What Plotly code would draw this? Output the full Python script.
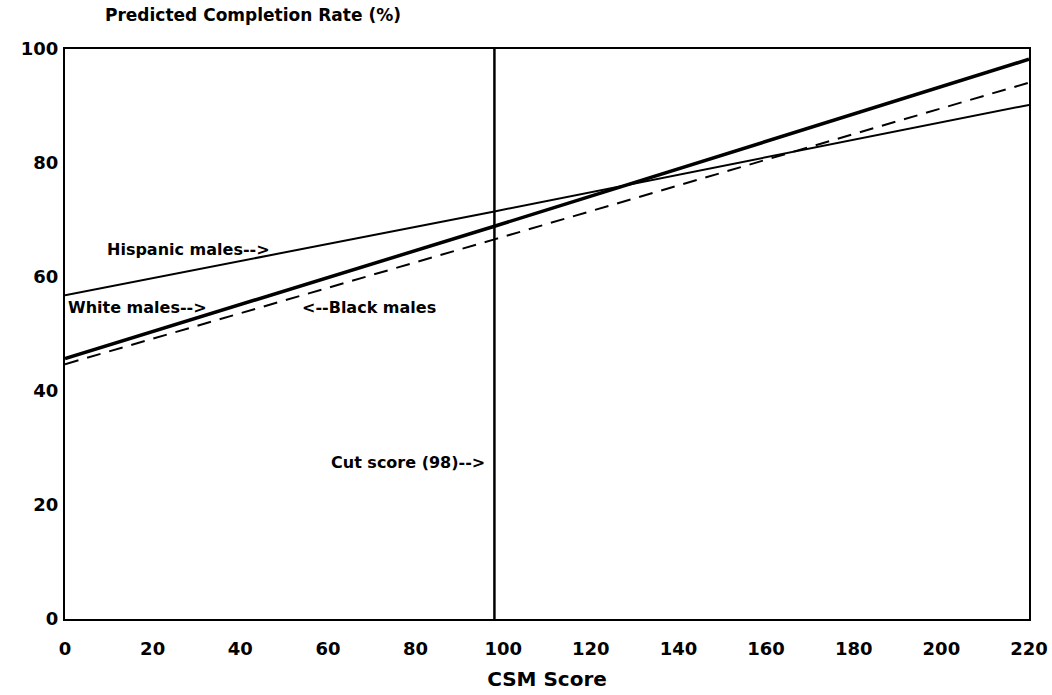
import plotly.graph_objects as go

# Data
score_x = [0, 98, 220]
hispanic_males = [56.8, 71.5, 90.2]
white_males = [45.7, 68.9, 98.2]
black_males = [44.7, 66.6, 94.1]
cut_score = 98
x_ticks = [0, 20, 40, 60, 80, 100, 120, 140, 160, 180, 200, 220]
y_ticks = [0, 20, 40, 60, 80, 100]

FONT = "DejaVu Sans"

fig = go.Figure()
fig.add_trace(go.Scatter(x=score_x, y=hispanic_males, mode="lines", name="Hispanic males",
                         line=dict(color="black", width=2)))
fig.add_trace(go.Scatter(x=score_x, y=black_males, mode="lines", name="Black males",
                         line=dict(color="black", width=2, dash="14px,9px")))
fig.add_trace(go.Scatter(x=score_x, y=white_males, mode="lines", name="White males",
                         line=dict(color="black", width=3.5)))
fig.add_trace(go.Scatter(x=[cut_score, cut_score], y=[0, 100], mode="lines", name="Cut score",
                         line=dict(color="black", width=2.5)))

ann_font = dict(family=FONT, size=16, color="black", weight="bold")
annotations = [
    dict(x=9.1, y=64.9, text="Hispanic males-->", xanchor="left"),
    dict(x=0.2, y=54.7, text="White males-->", xanchor="left"),
    dict(x=53.6, y=54.7, text="<--Black males", xanchor="left"),
    dict(x=96.3, y=27.5, text="Cut score (98)-->", xanchor="right"),
]
for a in annotations:
    a.update(xref="x", yref="y", showarrow=False, yanchor="middle", font=ann_font)
annotations.append(dict(x=0.039, y=1.0, xref="paper", yref="paper", yshift=46,
                        text="Predicted Completion Rate (%)", showarrow=False,
                        xanchor="left", yanchor="top",
                        font=dict(family=FONT, size=17, color="black", weight="bold")))

fig.update_layout(
    width=1052, height=695,
    margin=dict(l=65, r=23, t=49, b=76),
    paper_bgcolor="white", plot_bgcolor="white",
    showlegend=False,
    annotations=annotations,
    xaxis=dict(range=[0, 220], tickvals=x_ticks, showgrid=False, zeroline=False,
               showline=True, linecolor="black", linewidth=2, mirror=True,
               ticks="", ticklabelstandoff=12, automargin=False,
               tickfont=dict(family=FONT, size=18, color="black", weight="bold"),
               title=dict(text="CSM Score", standoff=14,
                          font=dict(family=FONT, size=20, color="black", weight="bold"))),
    yaxis=dict(range=[0, 100], tickvals=y_ticks, showgrid=False, zeroline=False,
               showline=True, linecolor="black", linewidth=2, mirror=True,
               ticks="", ticklabelstandoff=1, automargin=False,
               tickfont=dict(family=FONT, size=18, color="black", weight="bold")),
)

fig.write_html("out.html",
               config={"displayModeBar": False},
               post_script="document.body.style.margin='0';document.body.style.overflow='hidden';")
